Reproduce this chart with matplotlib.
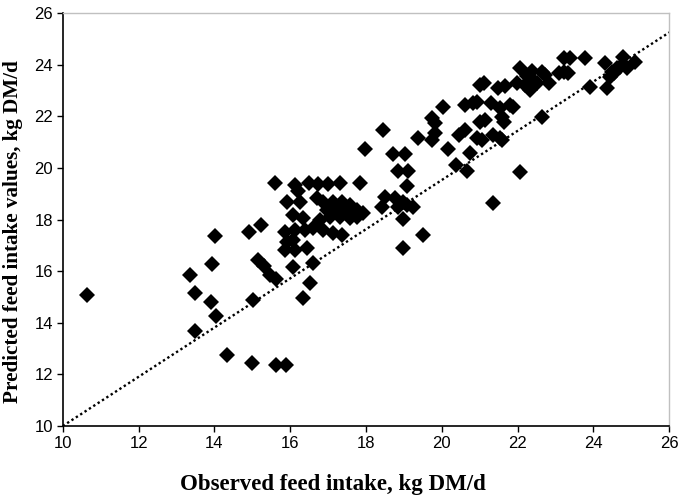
import matplotlib
matplotlib.use("Agg")
import matplotlib.pyplot as plt

observed = [
    10.65, 15.60, 14.02, 14.91, 15.24, 13.93, 13.35, 13.48, 13.91, 14.03,
    13.50, 14.34, 15.00, 15.62, 15.89, 15.02, 15.16, 15.31, 15.48, 15.62,
    16.13, 16.50, 16.74, 17.00, 17.31, 17.84, 16.21, 15.91, 16.26, 16.08,
    16.34, 16.70, 16.87, 17.14, 17.36, 17.58, 16.96, 17.23, 17.49, 17.75,
    17.93, 16.79, 17.05, 17.31, 17.58, 17.75, 15.86, 16.13, 16.39, 16.61,
    16.87, 17.14, 17.36, 15.91, 16.08, 15.86, 16.13, 16.43, 16.08, 16.61,
    16.52, 16.34,
    18.46, 19.38, 19.73, 19.82, 19.82, 19.73, 20.15, 20.44, 20.61, 17.96,
    18.72, 19.03, 18.85, 19.12, 19.07, 20.38, 20.66, 18.50, 18.77, 18.98,
    19.25, 18.41, 18.85, 19.07, 18.98, 19.51, 18.98, 20.02,
    22.07, 22.24, 22.37, 22.42, 21.98, 21.01, 21.10, 21.49, 21.67, 20.61,
    20.83, 20.92, 21.31, 21.54, 21.80, 21.89, 21.58, 21.63, 21.01, 21.14,
    20.92, 21.05, 21.36, 21.54, 21.58, 20.75, 22.07, 21.34,
    23.21, 23.39, 23.78, 24.31, 24.79, 25.10, 24.49, 24.62, 24.71, 24.88,
    24.44, 24.53, 24.35, 23.91, 22.64, 22.64, 22.73, 22.51, 22.82, 23.08,
    23.21, 23.34, 22.20, 22.33,
]
predicted = [
    15.07, 19.41, 17.35, 17.54, 17.80, 16.28, 15.87, 15.16, 14.82, 14.28,
    13.70, 12.75, 12.43, 12.36, 12.36, 14.87, 16.44, 16.21, 15.86, 15.69,
    19.35, 19.42, 19.39, 19.39, 19.42, 19.44, 19.13, 18.70, 18.70, 18.18,
    18.05, 18.83, 18.70, 18.70, 18.70, 18.57, 18.38, 18.38, 18.38, 18.38,
    18.25, 17.99, 18.12, 18.12, 18.05, 18.12, 17.54, 17.61, 17.61, 17.67,
    17.61, 17.48, 17.41, 17.15, 17.22, 16.83, 16.83, 16.90, 16.18, 16.31,
    15.53, 14.98,
    21.48, 21.16, 21.94, 21.74, 21.35, 21.09, 20.72, 21.29, 21.48, 20.73,
    20.53, 20.53, 19.87, 19.87, 19.29, 20.10, 19.87, 18.89, 18.83, 18.70,
    18.50, 18.50, 18.50, 18.57, 18.04, 17.40, 16.89, 22.38,
    23.89, 23.57, 23.76, 23.37, 23.31, 23.24, 23.31, 23.11, 23.18, 22.45,
    22.51, 22.58, 22.51, 22.32, 22.45, 22.38, 21.99, 21.80, 21.80, 21.86,
    21.16, 21.09, 21.29, 21.16, 21.09, 20.57, 19.85, 18.66,
    24.26, 24.26, 24.26, 24.07, 24.32, 24.13, 23.74, 23.87, 23.93, 23.87,
    23.54, 23.67, 23.09, 23.15, 21.99, 23.74, 23.61, 23.28, 23.28, 23.67,
    23.74, 23.67, 23.23, 23.03,
]

line_x = [10, 26]
line_y = [10, 25.26]

x_ticks = [10, 12, 14, 16, 18, 20, 22, 24, 26]
y_ticks = [10, 12, 14, 16, 18, 20, 22, 24, 26]

fig = plt.figure(figsize=(6.78, 4.97), dpi=100)
ax = fig.add_axes([0.0926, 0.1429, 0.8945, 0.8303])

ax.plot(line_x, line_y, linestyle=(0, (1, 1.2)), color="black", linewidth=1.7, zorder=2)
ax.plot(observed, predicted, linestyle="none", marker="D", markersize=8.0,
        color="black", markeredgewidth=0, zorder=3)

ax.set_xlim(10, 26)
ax.set_ylim(10, 26)
ax.set_xticks(x_ticks)
ax.set_yticks(y_ticks)
ax.set_xticklabels([str(t) for t in x_ticks], family="Liberation Sans", fontsize=12)
ax.set_yticklabels([str(t) for t in y_ticks], family="Liberation Sans", fontsize=12)
ax.tick_params(direction="out", length=4, width=1, color="black", pad=3)

for s in ["left", "bottom"]:
    ax.spines[s].set_color("black")
    ax.spines[s].set_linewidth(1.2)
for s in ["top", "right"]:
    ax.spines[s].set_color("#c0c0c0")
    ax.spines[s].set_linewidth(1.0)

ax.set_xlabel("Observed feed intake, kg DM/d", family="Liberation Serif",
              fontweight="bold", fontsize=16.5)
ax.xaxis.set_label_coords(333 / 678, 1 - 490 / 497, transform=fig.transFigure)
ax.xaxis.label.set_verticalalignment("baseline")

ax.set_ylabel("Predicted feed intake values, kg DM/d", family="Liberation Serif",
              fontweight="bold", fontsize=15.2)
ax.yaxis.set_label_coords(13 / 678, 1 - 232 / 497, transform=fig.transFigure)
ax.yaxis.label.set_verticalalignment("center")

fig.savefig("out.png", dpi=100)
